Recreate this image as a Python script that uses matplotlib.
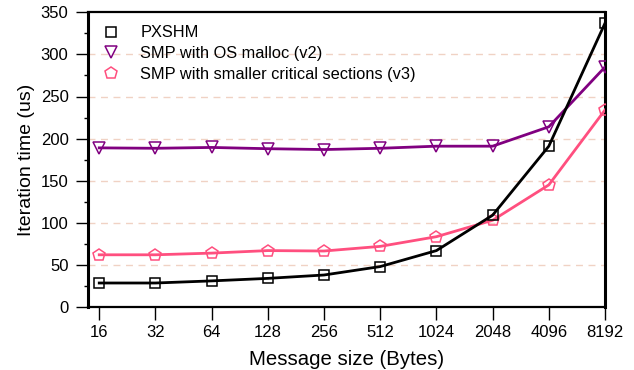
import matplotlib
matplotlib.use("Agg")
import matplotlib.pyplot as plt
from matplotlib.ticker import MultipleLocator

plt.rcParams["font.family"] = ["Liberation Sans", "DejaVu Sans"]

sizes = ["16", "32", "64", "128", "256", "512", "1024", "2048", "4096", "8192"]
pxshm = [28.5, 28.5, 31, 34, 38, 48, 67, 109, 191, 337]
smp_v2 = [189, 188.5, 189.5, 188, 187, 188.5, 191, 191, 214, 285]
smp_v3 = [62, 62, 64, 67, 66.5, 72, 83.5, 103, 145, 234]

fig = plt.figure(figsize=(6.34, 3.70), dpi=100)
ax = fig.add_axes([88 / 634, 1 - 307 / 370, (605 - 88) / 634, (307 - 12.3) / 370])

x = list(range(len(sizes)))
ax.plot(x, pxshm, color="black", lw=2, marker="s", ms=7, mfc="none",
        mec="black", mew=1.1, label="PXSHM", zorder=4)
ax.plot(x, smp_v2, color="#800080", lw=2, marker="v", ms=8, mfc="none",
        mec="#800080", mew=1.1, label="SMP with OS malloc (v2)", zorder=3)
ax.plot(x, smp_v3, color="#ff4f7f", lw=2, marker="p", ms=9, mfc="none",
        mec="#ff4f7f", mew=1.1, label="SMP with smaller critical sections (v3)", zorder=3)

for g in range(50, 350, 50):
    ax.axhline(g, color="#f0d2c4", lw=1, ls=(0, (5, 4)), zorder=1)

ax.set_xlim(-0.2, 9)
ax.set_ylim(0, 350)
ax.set_xticks(x)
ax.set_xticklabels(sizes)
ax.yaxis.set_major_locator(MultipleLocator(50))
ax.yaxis.set_minor_locator(MultipleLocator(25))
ax.tick_params(axis="both", which="major", direction="out", length=9,
               width=1, labelsize=12, pad=5)
ax.tick_params(axis="y", which="minor", direction="out", length=3, width=1)
ax.tick_params(axis="x", which="major", pad=4)

for side in ("left", "right"):
    ax.spines[side].set_linewidth(2.2)
for side in ("top", "bottom"):
    ax.spines[side].set_linestyle((0, (1, 1)))
    ax.spines[side].set_linewidth(1.6)

ax.set_xlabel("Message size (Bytes)", fontsize=14.7, labelpad=7)
ax.set_ylabel("Iteration time (us)", fontsize=14, labelpad=4)

leg = ax.legend(loc="upper left", frameon=False, fontsize=11.8,
                handlelength=1.2, handletextpad=1.2, labelspacing=0.35,
                borderaxespad=0.4)
for h in leg.legend_handles:
    h.set_linestyle("none")

fig.savefig("out.png", dpi=100, facecolor="white")
